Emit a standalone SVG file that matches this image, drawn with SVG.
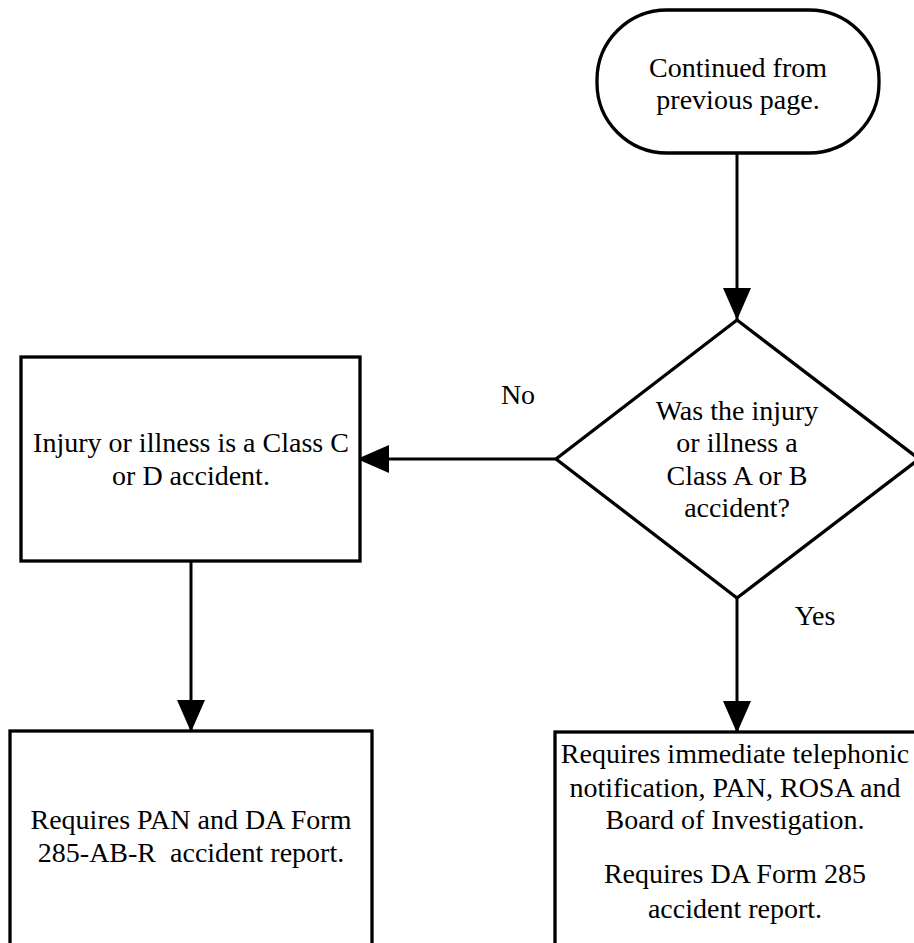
<svg xmlns="http://www.w3.org/2000/svg" width="914" height="943" viewBox="0 0 914 943">
<style>
.shape{fill:#fff;stroke:#000;stroke-width:3.3}
.conn{fill:none;stroke:#000;stroke-width:3}
text{font-family:"Liberation Serif","Times New Roman",serif;font-size:28px;fill:#000;text-anchor:middle}
</style>
<defs>
<marker id="ah" markerUnits="userSpaceOnUse" viewBox="0 0 32 28" refX="32" refY="14" markerWidth="32" markerHeight="28" orient="auto">
<path d="M0,0 L32,14 L0,28 Z" fill="#000"/>
</marker>
</defs>
<rect width="914" height="943" fill="#fff"/>
<g id="connectors">
<line class="conn" x1="737" y1="153" x2="737" y2="320" marker-end="url(#ah)"/>
<line class="conn" x1="556" y1="459" x2="357" y2="459" marker-end="url(#ah)"/>
<line class="conn" x1="191" y1="561" x2="191" y2="732" marker-end="url(#ah)"/>
<line class="conn" x1="737" y1="598" x2="737" y2="733" marker-end="url(#ah)"/>
<text x="518" y="404">No</text>
<text x="815" y="625">Yes</text>
</g>
<g id="start">
<rect class="shape" x="597" y="10" width="282" height="143" rx="70" ry="70"/>
<text x="738" y="77">Continued from</text>
<text x="738" y="109">previous page.</text>
</g>
<g id="decision">
<polygon class="shape" points="737,320 919,459 737,598 556,459"/>
<text x="737" y="420">Was the injury</text>
<text x="737" y="452">or illness a</text>
<text x="737" y="485">Class A or B</text>
<text x="737" y="517">accident?</text>
</g>
<g id="classCD">
<rect class="shape" x="21" y="357" width="339" height="204"/>
<text x="191" y="452">Injury or illness is a Class C</text>
<text x="191" y="485">or D accident.</text>
</g>
<g id="reportCD">
<rect class="shape" x="10" y="731" width="362" height="220"/>
<text x="191" y="829">Requires PAN and DA Form</text>
<text x="191" y="862" xml:space="preserve">285-AB-R  accident report.</text>
</g>
<g id="reportAB">
<rect class="shape" x="555" y="732" width="365" height="220"/>
<text x="735" y="763">Requires immediate telephonic</text>
<text x="735" y="797">notification, PAN, ROSA and</text>
<text x="735" y="829">Board of Investigation.</text>
<text x="735" y="883">Requires DA Form 285</text>
<text x="735" y="918">accident report.</text>
</g>
</svg>
